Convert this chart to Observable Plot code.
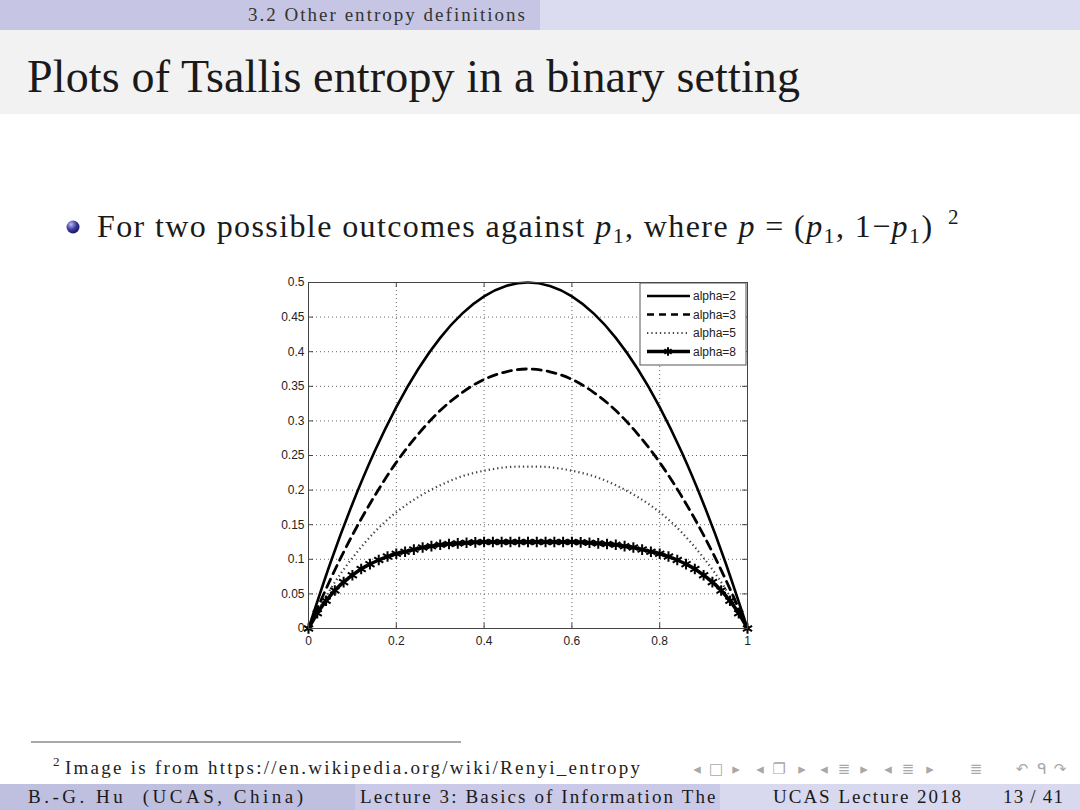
<!DOCTYPE html>
<html><head><meta charset="utf-8">
<script src="https://cdn.jsdelivr.net/npm/d3@7"></script>
<script src="https://cdn.jsdelivr.net/npm/@observablehq/plot@0.6"></script>
<style>
html,body{margin:0;padding:0;background:#fff;}
body{width:1080px;height:810px;position:relative;overflow:hidden;}
#chart{position:absolute;left:268px;top:272px;}
</style></head><body>
<script>
// ---------- data ----------
const p = [0,0.05,0.1,0.15,0.2,0.25,0.3,0.35,0.4,0.45,0.5,0.55,0.6,0.65,0.7,0.75,0.8,0.85,0.9,0.95,1];
const alpha2 = [0,0.095,0.18,0.255,0.32,0.375,0.42,0.455,0.48,0.495,0.5,0.495,0.48,0.455,0.42,0.375,0.32,0.255,0.18,0.095,0];
const alpha3 = [0,0.071,0.135,0.191,0.24,0.281,0.315,0.341,0.36,0.371,0.375,0.371,0.36,0.341,0.315,0.281,0.24,0.191,0.135,0.071,0];
const alpha5 = [0,0.057,0.102,0.139,0.168,0.19,0.207,0.22,0.228,0.233,0.234,0.233,0.228,0.22,0.207,0.19,0.168,0.139,0.102,0.057,0];
const p8 = [0,0.02,0.04,0.06,0.08,0.1,0.12,0.14,0.16,0.18,0.2,0.22,0.24,0.26,0.28,0.3,0.32,0.34,0.36,0.38,
            0.4,0.42,0.44,0.46,0.48,0.5,0.52,0.54,0.56,0.58,0.6,
            0.62,0.64,0.66,0.68,0.7,0.72,0.74,0.76,0.78,0.8,0.82,0.84,0.86,0.88,0.9,0.92,0.94,0.96,0.98,1];
const alpha8 = [0,0.022,0.04,0.055,0.067,0.077,0.086,0.093,0.099,0.104,0.108,0.111,0.114,0.117,0.119,0.121,0.122,0.123,0.124,0.1245,
            0.125,0.125,0.125,0.125,0.125,0.125,0.125,0.125,0.125,0.125,0.125,
            0.1245,0.124,0.123,0.122,0.121,0.119,0.117,0.114,0.111,0.108,0.104,0.099,0.093,0.086,0.077,0.067,0.055,0.04,0.022,0];
const seriesNames = ["alpha=2","alpha=3","alpha=5","alpha=8"];
const xTicks = [0,0.2,0.4,0.6,0.8,1];
const xTickLabels = ["0","0.2","0.4","0.6","0.8","1"];
const yTicks = [0,0.05,0.1,0.15,0.2,0.25,0.3,0.35,0.4,0.45,0.5];
const yTickLabels = ["0","0.05","0.1","0.15","0.2","0.25","0.3","0.35","0.4","0.45","0.5"];

// ---------- slide background & text ----------
const serif = '"Liberation Serif","Times New Roman",serif';
const page = d3.select("body").append("svg")
  .attr("width",1080).attr("height",810)
  .style("position","absolute").style("left","0").style("top","0");
const defs = page.append("defs");
const g = defs.append("radialGradient").attr("id","ball").attr("cx","35%").attr("cy","30%").attr("r","75%");
g.append("stop").attr("offset","0%").attr("stop-color","#b8b8f0");
g.append("stop").attr("offset","55%").attr("stop-color","#3a3aa0");
g.append("stop").attr("offset","100%").attr("stop-color","#14145a");

const fitText = (sel, w) => sel.attr("textLength", w).attr("lengthAdjust", "spacing");

page.append("rect").attr("x",0).attr("y",0).attr("width",540).attr("height",30).attr("fill","#c6c6e4");
page.append("rect").attr("x",540).attr("y",0).attr("width",540).attr("height",30).attr("fill","#dcdcf0");
page.append("rect").attr("x",0).attr("y",30).attr("width",1080).attr("height",84).attr("fill","#f2f2f2");
fitText(page.append("text").attr("x",248).attr("y",21)
  .style("font-family",serif).style("font-size","19px").attr("fill","#333").text("3.2 Other entropy definitions"), 277);
fitText(page.append("text").attr("x",27).attr("y",92)
  .style("font-family",serif).style("font-size","46px").attr("fill","#1a1a1a").text("Plots of Tsallis entropy in a binary setting"), 773);

page.append("circle").attr("cx",73).attr("cy",227).attr("r",6.5).attr("fill","url(#ball)");
const bt = page.append("text").attr("x",97).attr("y",237)
  .style("font-family",serif).style("font-size","32px").style("letter-spacing","1.4px").attr("fill","#1a1a1a");
function seg(t, opts={}) {
  const s = bt.append("tspan").text(t);
  if (opts.italic) s.style("font-style","italic");
  if (opts.dy) s.attr("dy",opts.dy);
  if (opts.size) s.style("font-size",opts.size);
  return s;
}
seg("For two possible outcomes against ");
seg("p",{italic:true}); seg("1",{dy:6,size:"22px"});
seg(", where ",{dy:-6}); seg("p",{italic:true}); seg(" = (");
seg("p",{italic:true}); seg("1",{dy:6,size:"22px"});
seg(", 1−",{dy:-6}); seg("p",{italic:true}); seg("1",{dy:6,size:"22px"});
seg(")",{dy:-6});
page.append("text").attr("x",948).attr("y",224).style("font-family",serif).style("font-size","21px").attr("fill","#1a1a1a").text("2");

// footnote
page.append("line").attr("x1",31).attr("x2",461).attr("y1",742).attr("y2",742).attr("stroke","#555").attr("stroke-width",1.2);
page.append("text").attr("x",53).attr("y",766).style("font-family",serif).style("font-size","13px").attr("fill","#222").text("2");
fitText(page.append("text").attr("x",65).attr("y",774).style("font-family",serif).style("font-size","19px").attr("fill","#222")
  .text("Image is from https://en.wikipedia.org/wiki/Renyi_entropy"), 575);

// navigation symbols
const nav = [["◂",697],["□",716],["▸",736],["◂",760],["❐",779],["▸",802],["◂",824],["≣",844],["▸",864],["◂",888],["≣",908],["▸",930],["≣",976],["↶",1022],["ᑫ",1042],["↷",1060]];
nav.forEach(([c,x]) => page.append("text").attr("x",x).attr("y",774).attr("text-anchor","middle")
  .style("font-family",'"DejaVu Sans",sans-serif').style("font-size","15px").attr("fill","#a8a8a8").text(c));

// footer bars
page.append("rect").attr("x",0).attr("y",784).attr("width",355).attr("height",26).attr("fill","#bfbfe0");
page.append("rect").attr("x",355).attr("y",784).attr("width",365).attr("height",26).attr("fill","#cacae8");
page.append("rect").attr("x",720).attr("y",784).attr("width",360).attr("height",26).attr("fill","#d8d8ef");
const ft = (t,x) => page.append("text").attr("x",x).attr("y",803)
  .style("font-family",serif).style("font-size","19px").attr("fill","#1a1a1a").text(t);
fitText(ft("B.-G. Hu  (UCAS, China)",28).attr("xml:space","preserve").style("white-space","pre"), 275);
page.append("clipPath").attr("id","midclip").append("rect").attr("x",355).attr("y",784).attr("width",363).attr("height",26);
ft("Lecture 3: Basics of Information Theory",360).style("letter-spacing","2.1px").attr("clip-path","url(#midclip)");
fitText(ft("UCAS Lecture 2018",773), 188);
fitText(ft("13 / 41",1003), 60);

// ---------- chart ----------
const innerW = 439, innerH = 346;
const tick = 5;
const lineData = (xs, ys, name) => xs.map((x,i) => ({p:x, v:ys[i], s:name}));
const d2 = lineData(p, alpha2, seriesNames[0]);
const d3_ = lineData(p, alpha3, seriesNames[1]);
const d5 = lineData(p, alpha5, seriesNames[2]);
const d8 = lineData(p8, alpha8, seriesNames[3]);

const chart = Plot.plot({
  width: 40 + innerW + 41,
  height: 10 + innerH + 30,
  marginLeft: 40, marginRight: 41, marginTop: 10, marginBottom: 30,
  style: {fontFamily: '"Liberation Sans", Arial, sans-serif', fontSize: "12px", color: "#222", background: "transparent", overflow: "visible"},
  x: {domain: [0,1]},
  y: {domain: [0,0.5]},
  marks: [
    Plot.gridX(xTicks.slice(1,-1), {stroke: "#555", strokeOpacity: 0.9, strokeDasharray: "1,3"}),
    Plot.gridY(yTicks.slice(1,-1), {stroke: "#555", strokeOpacity: 0.9, strokeDasharray: "1,3"}),
    Plot.axisX(xTicks, {tickSize: 0, tickPadding: 8, label: null, tickFormat: d => xTickLabels[xTicks.indexOf(d)], fill: "#222"}),
    Plot.axisY(yTicks, {tickSize: 0, tickPadding: 4, label: null, tickFormat: d => yTickLabels[yTicks.indexOf(d)], fill: "#222"}),
    Plot.tickY(yTicks, {y: d => d, insetRight: innerW - tick, stroke: "#444"}),
    Plot.tickY(yTicks, {y: d => d, insetLeft: innerW - tick, stroke: "#444"}),
    Plot.tickX(xTicks, {x: d => d, insetTop: innerH - tick, stroke: "#444"}),
    Plot.tickX(xTicks, {x: d => d, insetBottom: innerH - tick, stroke: "#444"}),
    Plot.line(d5, {x: "p", y: "v", curve: "natural", stroke: "#444", strokeWidth: 2.2, strokeDasharray: "1.3,3", strokeLinecap: "butt"}),
    Plot.line(d3_, {x: "p", y: "v", curve: "natural", stroke: "#000", strokeWidth: 2.8, strokeDasharray: "9,6"}),
    Plot.line(d2, {x: "p", y: "v", curve: "natural", stroke: "#000", strokeWidth: 2.6}),
    Plot.line(d8, {x: "p", y: "v", curve: "natural", stroke: "#000", strokeWidth: 3.5}),
    Plot.dot(d8, {x: "p", y: "v", symbol: "asterisk", r: 5, stroke: "#000", strokeWidth: 2}),
    Plot.frame({stroke: "#444"})
  ]
});
document.body.appendChild(Object.assign(document.createElement("div"), {id: "chart"})).appendChild(chart);

// legend (inside the plot's SVG, upper right corner of the frame)
const svg = d3.select(chart);
const lg = svg.append("g").attr("transform", `translate(${40 + innerW - 107},${10 + 1})`);
lg.append("rect").attr("x",0).attr("y",0).attr("width",106).attr("height",82).attr("fill","#fff").attr("stroke","#555");
const styles = [
  {w: 2.6, dash: null},
  {w: 2.6, dash: "7,5"},
  {w: 2.2, dash: "1.3,3", color: "#444"},
  {w: 3.5, dash: null, marker: true}
];
seriesNames.forEach((name, i) => {
  const y = 13 + i * 18.5;
  const st = styles[i];
  const l = lg.append("line").attr("x1",7).attr("x2",50).attr("y1",y).attr("y2",y)
    .attr("stroke", st.color || "#000").attr("stroke-width", st.w);
  if (st.dash) l.attr("stroke-dasharray", st.dash);
  if (st.marker) {
    lg.append("path").attr("d", d3.symbol(d3.symbolAsterisk, 50)()).attr("transform",`translate(28,${y})`)
      .attr("stroke","#000").attr("stroke-width",2).attr("fill","none");
  }
  lg.append("text").attr("x",53).attr("y",y + 4).attr("text-anchor","start")
    .style("font-family",'"Liberation Sans", Arial, sans-serif')
    .style("font-size","12px").attr("fill","#222").text(name);
});
</script>
</body></html>
